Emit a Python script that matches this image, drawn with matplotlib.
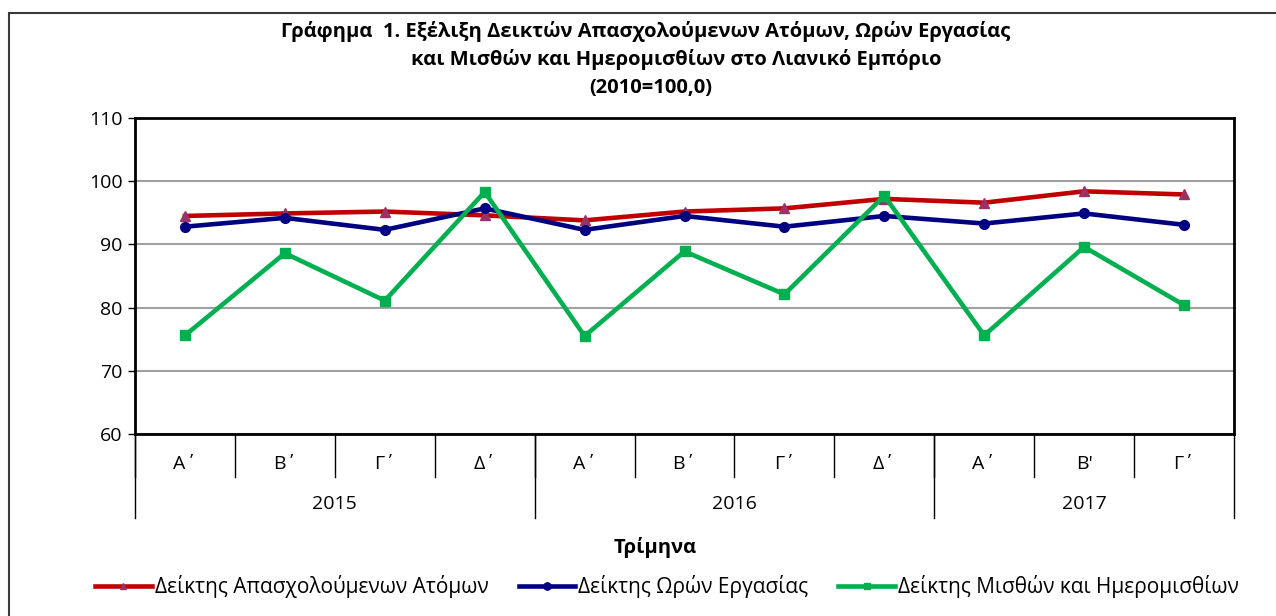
import numpy as np
import matplotlib
matplotlib.use('Agg')
from matplotlib import pyplot
from matplotlib.patches import Rectangle

pyplot.rcParams['font.family'] = ['Open Sans', 'DejaVu Sans']

quarters = ['Α΄', 'Β΄', 'Γ΄', 'Δ΄', 'Α΄', 'Β΄', 'Γ΄', 'Δ΄', 'Α΄', "Β'", 'Γ΄']
years = ['2015', '2016', '2017']
year_counts = [4, 4, 3]

employment = [94.5, 94.9, 95.2, 94.6, 93.8, 95.2, 95.7, 97.2, 96.6, 98.4, 97.9]
hours = [92.8, 94.2, 92.3, 95.7, 92.3, 94.5, 92.8, 94.5, 93.3, 94.9, 93.1]
wages = [75.6, 88.6, 81.1, 98.3, 75.5, 88.9, 82.1, 97.7, 75.6, 89.6, 80.4]

labels = ['Δείκτης Απασχολούμενων Ατόμων', 'Δείκτης Ωρών Εργασίας',
          'Δείκτης Μισθών και Ημερομισθίων']

W, H = 1276, 616
fig = pyplot.figure(figsize=(W / 100, H / 100), dpi=100)

# outer chart border (cut off at right and bottom)
fig.patches.append(Rectangle((9 / W, -0.1), 1.2, (H - 13) / H + 0.1,
                             transform=fig.transFigure, fill=False,
                             edgecolor='#3a3a3a', linewidth=1.5))

left, right, top, bottom = 135, 1234, 118, 434
ax = fig.add_axes([left / W, 1 - bottom / H, (right - left) / W, (bottom - top) / H])
ax_h = bottom - top

x = np.arange(len(quarters))
ax.plot(x, employment, color='#C00000', linewidth=3.3, marker='^', markersize=6.5,
        markerfacecolor='#993366', markeredgecolor='#993366', label=labels[0], zorder=3)
ax.plot(x, hours, color='#000080', linewidth=3.3, marker='o', markersize=7,
        markerfacecolor='#000080', markeredgecolor='#000080', label=labels[1], zorder=4)
ax.plot(x, wages, color='#00B050', linewidth=3.3, marker='s', markersize=6.5,
        markerfacecolor='#00B050', markeredgecolor='#00B050', label=labels[2], zorder=5)

ax.set_xlim(-0.5, len(quarters) - 0.5)
ax.set_ylim(60, 110)
ax.set_yticks(range(60, 111, 10))
ax.yaxis.grid(True, color='#a0a0a0', linewidth=1.5)
ax.set_axisbelow(True)
ax.set_xticks([])
ax.tick_params(axis='y', labelsize=14, length=5, width=1, pad=4)
for s in ax.spines.values():
    s.set_linewidth(2)
    s.set_color('black')

# two-level category axis
trans = ax.get_xaxis_transform()
q_line = -43 / ax_h
y_line = -84 / ax_h
for i, q in enumerate(quarters):
    ax.text(i, -30 / ax_h, q, transform=trans, ha='center', va='center', fontsize=14)
    ax.plot([i - 0.5, i - 0.5], [0, q_line], transform=trans, color='black',
            linewidth=1, clip_on=False)
start = 0
for yr, n in zip(years, year_counts):
    ax.text(start + (n - 1) / 2, -70 / ax_h, yr, transform=trans, ha='center',
            va='center', fontsize=14)
    ax.plot([start - 0.5, start - 0.5], [0, y_line], transform=trans, color='black',
            linewidth=1, clip_on=False)
    start += n
ax.plot([start - 0.5, start - 0.5], [0, y_line], transform=trans, color='black',
        linewidth=1, clip_on=False)

fig.text(655 / W, 1 - 548 / H, 'Τρίμηνα', ha='center', va='center', fontsize=14.5,
         fontweight='bold')

# title
fig.text(646 / W, 1 - 32 / H, 'Γράφημα  1. Εξέλιξη Δεικτών Απασχολούμενων Ατόμων, Ωρών Εργασίας',
         ha='center', va='center', fontsize=14.5, fontweight='bold')
fig.text(676 / W, 1 - 60 / H, 'και Μισθών και Ημερομισθίων στο Λιανικό Εμπόριο',
         ha='center', va='center', fontsize=14.5, fontweight='bold')
fig.text(651 / W, 1 - 88 / H, '(2010=100,0)',
         ha='center', va='center', fontsize=14.5, fontweight='bold')

fig.legend(loc='center', bbox_to_anchor=(667 / W, 1 - 587 / H), ncol=3, frameon=False,
           fontsize=15, handlelength=2.7, handletextpad=0.15, columnspacing=1.45,
           markerscale=0.75)

pyplot.savefig('out.png', dpi=100)
